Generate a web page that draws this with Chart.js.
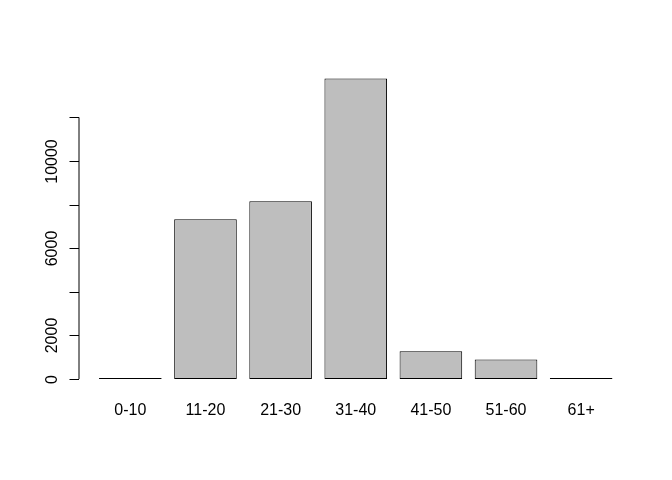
<!DOCTYPE html>
<html>
<head>
<meta charset="utf-8">
<script src="https://cdn.jsdelivr.net/npm/chart.js@4/dist/chart.umd.min.js"></script>
<style>
  html, body { margin:0; padding:0; background:#fff; }
  #wrap { width:672px; height:480px; }
</style>
</head>
<body>
<div id="wrap"><canvas id="chart" width="672" height="480"></canvas></div>
<script>
// Age group counts (R barplot style)
const categories = ['0-10','11-20','21-30','31-40','41-50','51-60','61+'];
const counts = [45, 7330, 8150, 13780, 1270, 890, 40];
const yTicks = [0, 2000, 4000, 6000, 8000, 10000, 12000];
const yLabelled = [0, 2000, 6000, 10000];

// bar centres on R's barplot axis: width 1, space 0.2
const centres = categories.map((_, i) => 0.7 + 1.2 * i);
const points = counts.map((v, i) => ({ x: centres[i], y: v }));

const FONT = '16px "Liberation Sans", Arial, sans-serif';

const rAxes = {
  id: 'rAxes',
  afterDraw(chart){
    const ctx = chart.ctx, xs = chart.scales.x, ys = chart.scales.y;
    const left = chart.chartArea.left;
    ctx.save();
    ctx.strokeStyle = '#000'; ctx.lineWidth = 1; ctx.fillStyle = '#000';
    ctx.font = FONT;
    // y axis line over tick range
    const y0 = ys.getPixelForValue(yTicks[0]), y1 = ys.getPixelForValue(yTicks[yTicks.length-1]);
    ctx.beginPath(); ctx.moveTo(left+0.5, y0); ctx.lineTo(left+0.5, y1); ctx.stroke();
    yTicks.forEach(t=>{
      const py = Math.round(ys.getPixelForValue(t)) + 0.5;
      ctx.beginPath(); ctx.moveTo(left+0.5, py); ctx.lineTo(left-9, py); ctx.stroke();
      if (yLabelled.includes(t)){
        ctx.save();
        ctx.translate(left-22, py);
        ctx.rotate(-Math.PI/2);
        ctx.textAlign = 'center'; ctx.textBaseline = 'alphabetic';
        ctx.fillText(String(t), 0, 0);
        ctx.restore();
      }
    });
    // category labels under bars
    ctx.textAlign = 'center'; ctx.textBaseline = 'middle';
    categories.forEach((c,i)=>{
      ctx.fillText(c, xs.getPixelForValue(centres[i]), chart.chartArea.bottom + 20);
    });
    ctx.restore();
  }
};

new Chart(document.getElementById('chart'), {
  type: 'bar',
  data: {
    datasets: [{
      data: points,
      backgroundColor: '#bebebe',
      borderColor: '#000',
      borderWidth: 1,
      borderSkipped: false,
      categoryPercentage: 1,
      barPercentage: 1/1.2
    }]
  },
  options: {
    responsive: false,
    animation: false,
    layout: { padding: { left: 78.5, right: 39, top: 66.7, bottom: 89 } },
    plugins: { legend: { display:false }, tooltip: { enabled:false } },
    scales: {
      x: {
        type:'linear', min:-0.128, max:8.728, offset:false, display:false,
        afterBuildTicks: s => { s.ticks = centres.map(v => ({ value: v })); }
      },
      y: { min:-551, max:14326, display:false }
    }
  },
  plugins: [rAxes]
});
</script>
</body>
</html>
